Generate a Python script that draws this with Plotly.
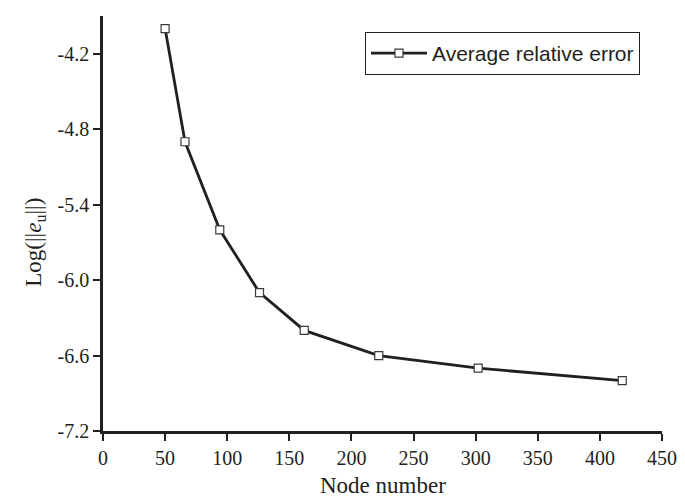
import plotly.graph_objects as go

node_number = [50, 66, 94, 126, 162, 222, 302, 418]
log_error = [-4.0, -4.9, -5.6, -6.1, -6.4, -6.6, -6.7, -6.8]
series_name = "Average relative error"
x_ticks = [0, 50, 100, 150, 200, 250, 300, 350, 400, 450]
y_ticks = [-7.2, -6.6, -6.0, -5.4, -4.8, -4.2]
y_tick_labels = ["-7.2", "-6.6", "-6.0", "-5.4", "-4.8", "-4.2"]

ink = "#231f20"
fig = go.Figure()
fig.add_trace(go.Scatter(
    x=node_number, y=log_error, mode="lines+markers", name=series_name,
    line=dict(color=ink, width=2.8),
    marker=dict(symbol="square", size=8, color="white",
                line=dict(color="#3a3a3a", width=1.2)),
))

serif = "Liberation Serif, Times New Roman, serif"
fig.update_layout(
    width=685, height=499,
    margin=dict(l=95, r=31, t=8, b=76),
    paper_bgcolor="white", plot_bgcolor="white",
    showlegend=True,
    legend=dict(x=0.4687, y=0.9096, xanchor="left", yanchor="middle",
                bordercolor=ink, borderwidth=1, bgcolor="white",
                font=dict(family="Liberation Sans, Arial, sans-serif", size=21, color=ink),
                itemwidth=56, tracegroupgap=0),
    xaxis=dict(range=[0, 450], tickvals=x_ticks, ticks="outside", ticklen=7,
               tickwidth=2, tickcolor=ink, showline=True, linecolor=ink,
               linewidth=2.5, showgrid=False, zeroline=False, automargin=False,
               tickfont=dict(family=serif, size=20, color=ink)),
    yaxis=dict(range=[-7.2, -3.9], tickvals=y_ticks, ticktext=y_tick_labels, ticks="outside",
               ticklen=7, tickwidth=2, tickcolor=ink, showline=True,
               linecolor=ink, linewidth=2.5, showgrid=False, zeroline=False, automargin=False,
               tickfont=dict(family=serif, size=20, color=ink)),
    annotations=[
        dict(text="Log(||<i>e</i><sub>u</sub>||)", xref="paper", yref="y",
             x=-0.121, y=-5.7, xanchor="center", yanchor="middle",
             textangle=-90, showarrow=False, borderpad=0,
             font=dict(family=serif, size=23, color=ink)),
        dict(text="Node number", xref="paper", yref="paper",
             x=0.5, y=-0.1325, xanchor="center", yanchor="middle",
             showarrow=False, borderpad=0, font=dict(family=serif, size=23, color=ink)),
    ],
)
fig.write_html("out.html")
